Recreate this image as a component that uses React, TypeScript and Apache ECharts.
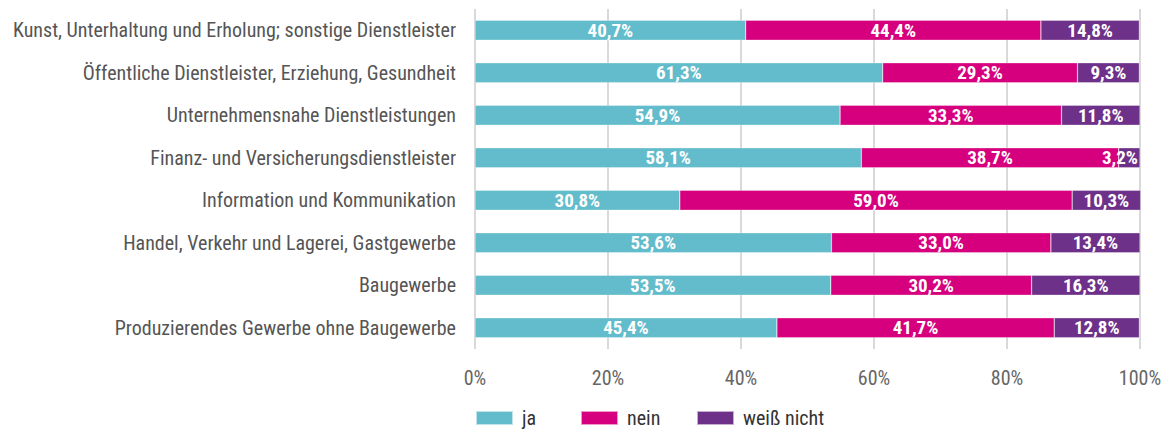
import React, { useEffect, useRef } from "react";
import * as echarts from "echarts";

const categories = [
  "Produzierendes Gewerbe ohne Baugewerbe",
  "Baugewerbe",
  "Handel, Verkehr und Lagerei, Gastgewerbe",
  "Information und Kommunikation",
  "Finanz- und Versicherungsdienstleister",
  "Unternehmensnahe Dienstleistungen",
  "Öffentliche Dienstleister, Erziehung, Gesundheit",
  "Kunst, Unterhaltung und Erholung; sonstige Dienstleister",
];
const ja = [45.4, 53.5, 53.6, 30.8, 58.1, 54.9, 61.3, 40.7];
const nein = [41.7, 30.2, 33.0, 59.0, 38.7, 33.3, 29.3, 44.4];
const weissNicht = [12.8, 16.3, 13.4, 10.3, 3.2, 11.8, 9.3, 14.8];
const seriesNames = ["ja", "nein", "weiß nicht"];
const colors = ["#62bccb", "#d6007e", "#6e3189"];
const legendLefts = [475, 580, 696];

const FONT = "'Roboto Condensed', 'Roboto', sans-serif";

export default function App() {
  const ref = useRef<HTMLDivElement>(null);
  useEffect(() => {
    document.body.style.margin = "0";
    if (!ref.current) return;
    const chart = echarts.init(ref.current, undefined, { renderer: "svg" });
    const mk = (name: string, data: number[], color: string) => ({
      name,
      type: "bar",
      stack: "total",
      data: data.map((v) =>
        v < 5 ? { value: v, label: { position: "insideRight", distance: 2 } } : v
      ),
      barWidth: 20,
      clip: false,
      itemStyle: { color, borderColor: "rgba(255,255,255,0.6)", borderWidth: 0.5 },
      label: {
        show: true,
        position: "inside",
        color: "#fff",
        fontFamily: FONT,
        fontWeight: "bold",
        fontSize: 19,
        formatter: (p: any) => p.value.toFixed(1).replace(".", ",") + "%",
      },
    });
    chart.setOption({
      animation: false,
      textStyle: { fontFamily: FONT },
      grid: { left: 475, right: 25, top: 9, bottom: 81, containLabel: false },
      legend: seriesNames.map((n, i) => ({
        left: legendLefts[i],
        top: 408,
        itemWidth: 37,
        itemHeight: 14,
        icon: "rect",
        padding: 0,
        textStyle: { fontFamily: FONT, fontSize: 20, color: "#333", padding: [0, 0, 0, 4] },
        data: [n],
      })),
      xAxis: {
        type: "value",
        min: 0,
        max: 100,
        interval: 20,
        axisLabel: {
          formatter: (v: number) => v + "%",
          fontFamily: FONT,
          fontSize: 20,
          color: "#666",
          margin: 19,
        },
        axisLine: { show: false },
        axisTick: { show: false },
        splitLine: { show: true, lineStyle: { color: "#d9d9d9", width: 2 } },
      },
      yAxis: {
        type: "category",
        data: categories,
        axisLine: { show: false },
        axisTick: { show: false },
        axisLabel: { fontFamily: FONT, fontSize: 20, color: "#555", margin: 19 },
      },
      series: [
        mk(seriesNames[0], ja, colors[0]),
        mk(seriesNames[1], nein, colors[1]),
        mk(seriesNames[2], weissNicht, colors[2]),
      ],
    });
    return () => chart.dispose();
  }, []);
  return <div ref={ref} style={{ width: 1165, height: 430 }} />;
}
